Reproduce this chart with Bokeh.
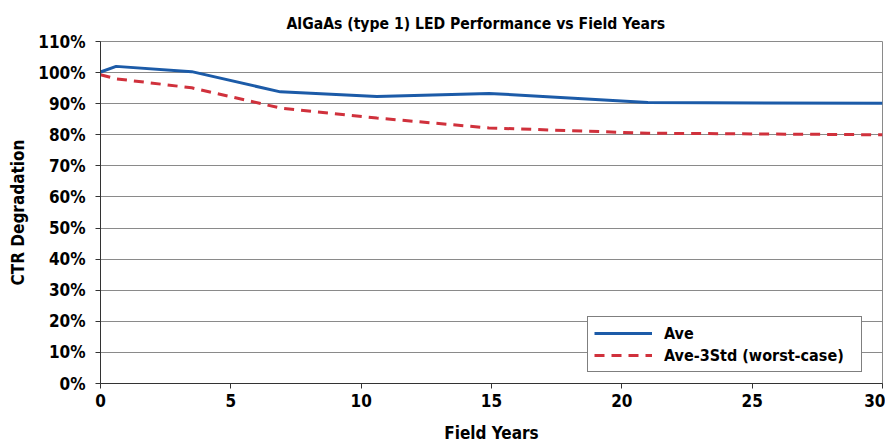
from bokeh.plotting import figure
from bokeh.models import Range1d, FixedTicker, PrintfTickFormatter, Legend, LegendItem, Title
from bokeh.embed import file_html
from bokeh.resources import INLINE

# Data (field years vs CTR degradation, %)
years_ave = [0, 0.6, 3.5, 6.9, 10.6, 14.9, 21.0, 30]
ave = [100.2, 102.0, 100.3, 93.8, 92.3, 93.3, 90.4, 90.1]
years_worst = [0, 0.6, 3.5, 6.9, 10.6, 14.9, 21.0, 30]
worst = [99.3, 98.0, 95.1, 88.6, 85.4, 82.2, 80.5, 80.0]

x_ticks = [0, 5, 10, 15, 20, 25, 30]
y_ticks = [0, 10, 20, 30, 40, 50, 60, 70, 80, 90, 100, 110]

FONT = "'DejaVu Sans Condensed', 'Open Sans', sans-serif"

p = figure(width=885, height=445, output_backend="svg", toolbar_location=None,
           x_range=Range1d(0, 30), y_range=Range1d(0, 110),
           min_border_left=100, min_border_right=3, min_border_top=41, min_border_bottom=60)

p.title = Title(text="AlGaAs (type 1) LED Performance vs Field Years", align="left",
                text_font=FONT, text_font_size="15.6px", text_font_style="bold",
                text_color="black", offset=186, standoff=17)

p.outline_line_color = "#8a8a8a"
p.outline_line_width = 1
p.background_fill_color = "white"
p.border_fill_color = "white"

p.xgrid.visible = False
p.ygrid.grid_line_color = "#8a8a8a"
p.ygrid.grid_line_width = 1
p.ygrid.ticker = FixedTicker(ticks=y_ticks)

for ax in (p.xaxis[0], p.yaxis[0]):
    ax.axis_line_color = "#333333"
    ax.axis_line_width = 1
    ax.major_tick_line_color = "#333333"
    ax.major_tick_in = 0
    ax.major_tick_out = 5
    ax.minor_tick_line_color = None
    ax.major_label_text_font = FONT
    ax.major_label_text_font_size = "17px"
    ax.major_label_text_font_style = "bold"
    ax.major_label_text_color = "black"
    ax.axis_label_text_font = FONT
    ax.axis_label_text_font_size = "17px"
    ax.axis_label_text_font_style = "bold"
    ax.axis_label_text_color = "black"

p.xaxis.ticker = FixedTicker(ticks=x_ticks)
p.yaxis.ticker = FixedTicker(ticks=y_ticks)
p.yaxis.formatter = PrintfTickFormatter(format="%d%%")
p.xaxis.axis_label = "Field Years"
p.yaxis.axis_label = "CTR Degradation"
p.xaxis.major_label_standoff = 5
p.yaxis.major_label_standoff = 10
p.xaxis.axis_label_standoff = 13
p.yaxis.axis_label_standoff = 7

r1 = p.line(years_ave, ave, line_color="#1c5ba8", line_width=3)
r2 = p.line(years_worst, worst, line_color="#d0313c", line_width=3, line_dash="10 7")

legend = Legend(items=[LegendItem(label="Ave", renderers=[r1]),
                       LegendItem(label="Ave-3Std (worst-case)", renderers=[r2])],
                location=(487, 11))
legend.label_text_font = FONT
legend.label_text_font_size = "16px"
legend.label_text_font_style = "bold"
legend.label_text_color = "black"
legend.border_line_color = "black"
legend.border_line_width = 1
legend.background_fill_alpha = 1
legend.glyph_width = 58
legend.label_standoff = 12
legend.label_width = 191
legend.padding = 6
legend.spacing = 2
legend.margin = 0
legend.label_height = 20
legend.glyph_height = 20
p.add_layout(legend, "center")

open("out.html", "w").write(file_html(p, INLINE))
